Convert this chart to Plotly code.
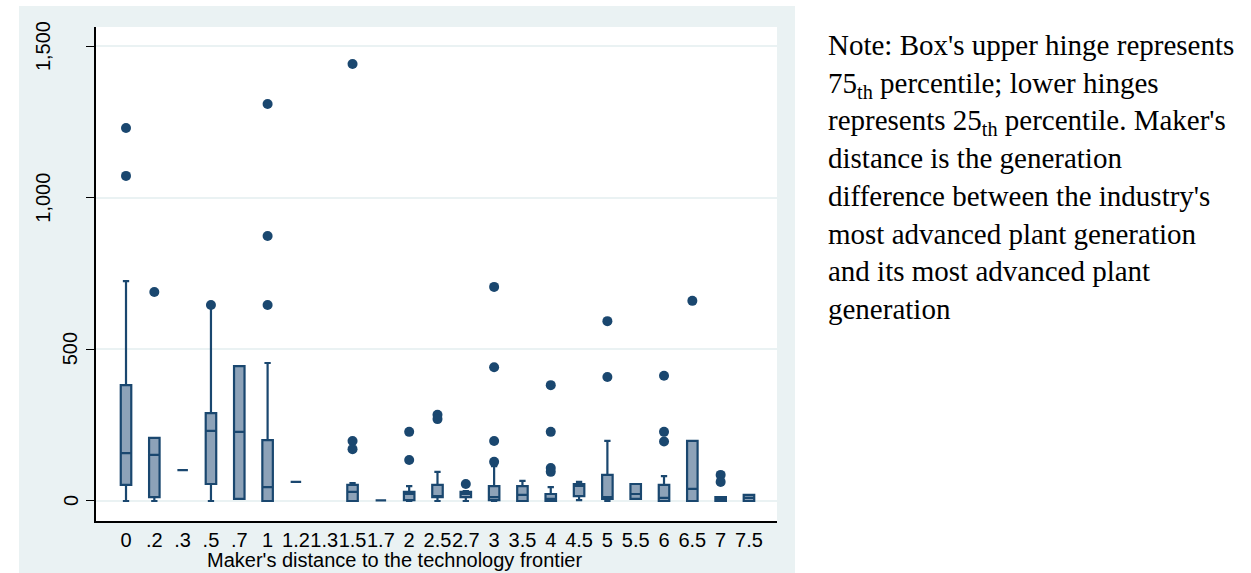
import plotly.graph_objects as go

# ---- data ----
categories = ["0", ".2", ".3", ".5", ".7", "1", "1.2", "1.3", "1.5", "1.7", "2",
              "2.5", "2.7", "3", "3.5", "4", "4.5", "5", "5.5", "6", "6.5", "7", "7.5"]

box_categories = ["0", ".2", ".3", ".5", ".7", "1", "1.2", "1.5", "1.7", "2",
                  "2.5", "2.7", "3", "3.5", "4", "4.5", "5", "5.5", "6", "6.5", "7", "7.5"]
lower_adjacent = [0, 0, 102, 0, 7, 0, 63, 0, 2, 0, 0, 0, 0, 0, 0, 3, 0, 7, 0, 0, 0, 0]
q1_values      = [53, 13, 102, 56, 7, 0, 63, 0, 2, 3, 13, 13, 3, 0, 0, 16, 7, 7, 0, 0, 0, 0]
median_values  = [158, 152, 102, 231, 228, 46, 63, 30, 2, 23, 16, 23, 13, 20, 7, 50, 13, 23, 10, 40, 7, 10]
q3_values      = [382, 208, 102, 290, 445, 201, 63, 53, 2, 30, 53, 30, 49, 49, 23, 56, 86, 56, 53, 198, 13, 20]
upper_adjacent = [725, 208, 102, 640, 445, 455, 63, 59, 2, 49, 96, 33, 115, 66, 46, 63, 198, 56, 82, 198, 13, 20]

outlier_categories = ["0", "0", ".2", ".5", "1", "1", "1", "1.5", "1.5", "1.5", "2", "2",
                      "2.5", "2.5", "2.7", "3", "3", "3", "3", "4", "4", "4", "4",
                      "5", "5", "6", "6", "6", "6.5", "7", "7"]
outlier_values = [1230, 1072, 689, 646, 1309, 874, 646, 1441, 198, 171, 228, 135,
                  284, 270, 56, 706, 441, 198, 129, 382, 228, 109, 96,
                  593, 409, 413, 228, 196, 660, 86, 63]

y_ticks = [0, 500, 1000, 1500]
y_tick_labels = ["0", "500", "1,000", "1,500"]

x_title = "Maker's distance to the technology frontier"
note_text = ("Note: Box's upper hinge represents<br>"
             "75<sub>th</sub> percentile; lower hinges<br>"
             "represents 25<sub>th</sub> percentile. Maker's<br>"
             "distance is the generation<br>"
             "difference between the industry's<br>"
             "most advanced plant generation<br>"
             "and its most advanced plant<br>"
             "generation")

# ---- styles ----
NAVY = "#1A476F"
FILL = "#8DA2B8"
BG = "#EAF2F3"
SANS = "Liberation Sans, Arial, sans-serif"
SERIF = "Liberation Serif, Times New Roman, serif"

W, H = 1251, 573
L, R, T, B = 96, 474, 27, 52
pw, ph = W - L - R, H - T - B


def px_x(px):
    return (px - L) / pw


def px_y(py):
    return (H - B - py) / ph


fig = go.Figure()
fig.add_trace(go.Box(
    x=box_categories,
    q1=q1_values, median=median_values, q3=q3_values,
    lowerfence=lower_adjacent, upperfence=upper_adjacent,
    fillcolor=FILL, line=dict(color=NAVY, width=2.2),
    whiskerwidth=0.6, boxpoints=False, showlegend=False,
))
fig.add_trace(go.Scatter(
    x=outlier_categories, y=outlier_values, mode="markers",
    marker=dict(color=NAVY, size=10), showlegend=False,
))

# y tick labels (vertical, placed like the reference)
label_x_px = {"0": 71, "500": 70, "1,000": 43, "1,500": 43}
y_label_annotations = [
    dict(text=lab, xref="paper", yref="y", x=px_x(label_x_px[lab]), y=val,
         xanchor="center", yanchor="middle", textangle=-90, showarrow=False,
         font=dict(family=SANS, size=20, color="black"))
    for val, lab in zip(y_ticks, y_tick_labels)
]

fig.update_layout(
    width=W, height=H, autosize=False,
    margin=dict(l=L, r=R, t=T, b=B, pad=0),
    paper_bgcolor="white", plot_bgcolor="white",
    boxgap=0.47,
    font=dict(family=SANS, size=20, color="black"),
    shapes=[
        dict(type="rect", xref="paper", yref="paper", layer="below",
             x0=px_x(19), x1=px_x(795), y0=px_y(H), y1=px_y(6),
             fillcolor=BG, line=dict(width=0)),
        dict(type="rect", xref="paper", yref="paper", layer="below",
             x0=0, x1=1, y0=0, y1=1, fillcolor="white", line=dict(width=0)),
    ],
    annotations=y_label_annotations + [
        dict(text=x_title, xref="paper", yref="paper", x=px_x(394), y=px_y(560),
             xanchor="center", yanchor="middle", showarrow=False,
             font=dict(family=SANS, size=20, color="black")),
        dict(text=note_text, xref="paper", yref="paper", x=px_x(826), y=px_y(27),
             xanchor="left", yanchor="top", align="left", showarrow=False,
             font=dict(family=SERIF, size=29, color="black")),
    ],
)

fig.update_xaxes(
    type="category", categoryorder="array", categoryarray=categories,
    range=[-1.06, 22.99], showgrid=False, zeroline=False,
    showline=True, linecolor="black", linewidth=1.5,
    ticks="", tickangle=0, tickfont=dict(size=20), ticklabelstandoff=0,
)
fig.update_yaxes(
    range=[-66, 1563], tickvals=y_ticks, showticklabels=False,
    ticks="outside", ticklen=8, tickcolor="black",
    showline=True, linecolor="black", linewidth=1.5,
    showgrid=True, gridcolor=BG, gridwidth=1.5, zeroline=False,
)

fig.write_html("out.html", config={"displayModeBar": False},
               post_script="document.body.style.margin='0px';")
